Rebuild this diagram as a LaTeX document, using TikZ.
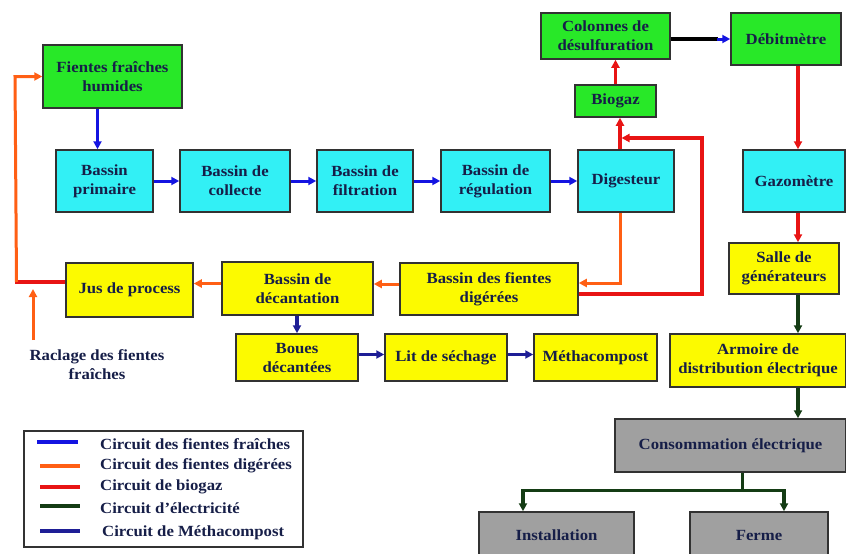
\documentclass[tikz,border=0pt]{standalone}
\usepackage{fontspec}
\setmainfont{Liberation Serif}[FakeStretch=1.08]
\usetikzlibrary{arrows.meta,calc}
\definecolor{txt}{RGB}{22,30,72}
\definecolor{gfill}{RGB}{40,232,40}
\definecolor{cfill}{RGB}{50,240,245}
\definecolor{yfill}{RGB}{252,250,0}
\definecolor{grfill}{RGB}{160,160,160}
\definecolor{bordc}{RGB}{50,50,50}
\definecolor{cblue}{RGB}{20,20,225}
\definecolor{corange}{RGB}{255,95,20}
\definecolor{cred}{RGB}{232,20,20}
\definecolor{cgreen}{RGB}{20,60,20}
\definecolor{cnavy}{RGB}{30,30,150}
\tikzset{
  box/.style={draw=bordc,line width=1.5pt,inner sep=0pt,align=center,
    font=\fontsize{15.5}{19}\selectfont\bfseries,text=txt},
  gbox/.style={box,fill=gfill},
  cbox/.style={box,fill=cfill},
  ybox/.style={box,fill=yfill},
  grbox/.style={box,fill=grfill},
  tip/.style={-{Triangle[length=8pt,width=8pt]}},
  fblue/.style={tip,draw=cblue,line width=3pt},
  forange/.style={tip,draw=corange,line width=3pt},
  fred/.style={tip,draw=cred,line width=3.2pt},
  fgreen/.style={tip,draw=cgreen,line width=3.2pt},
  fnavy/.style={tip,draw=cnavy,line width=3.2pt},
  lbl/.style={font=\fontsize{15.5}{19}\selectfont\bfseries,text=txt,align=center,inner sep=0pt},
}
\begin{document}
\begin{tikzpicture}[x=1pt,y=-1pt]
\useasboundingbox[fill=white] (0,0) rectangle (846,554);
% nodes
\node[gbox,minimum width=139,minimum height=63] (fientes) at (112.5,76.5) {Fientes fraîches\\humides};
\node[cbox,minimum width=97,minimum height=62] (primaire) at (104.5,181) {Bassin\\primaire};
\node[cbox,minimum width=110,minimum height=62] (collecte) at (235,181) {Bassin de\\collecte};
\node[cbox,minimum width=96,minimum height=62] (filtration) at (365,181) {Bassin de\\filtration};
\node[cbox,minimum width=109,minimum height=62] (regulation) at (495.5,181) {Bassin de\\régulation};
\node[cbox,minimum width=96,minimum height=62] (digesteur) at (626,181) {Digesteur};
\node[gbox,minimum width=81,minimum height=32] (biogaz) at (615.5,101) {Biogaz};
\node[gbox,minimum width=129,minimum height=46] (colonnes) at (605.5,36) {Colonnes de\\désulfuration};
\node[gbox,minimum width=110,minimum height=52] (debit) at (786,39) {Débitmètre};
\node[cbox,minimum width=102,minimum height=62] (gazo) at (794,181) {Gazomètre};
\node[ybox,minimum width=110,minimum height=51] (salle) at (784,268.5) {Salle de\\générateurs};
\node[ybox,minimum width=178,minimum height=52] (digerees) at (489,289) {Bassin des fientes\\digérées};
\node[ybox,minimum width=151,minimum height=53] (decant) at (297.5,288.5) {Bassin de\\décantation};
\node[ybox,minimum width=127,minimum height=54] (jus) at (129.5,290) {Jus de process};
\node[ybox,minimum width=122,minimum height=47] (boues) at (297,357.5) {Boues\\décantées};
\node[ybox,minimum width=122,minimum height=47] (lit) at (446,357.5) {Lit de séchage};
\node[ybox,minimum width=123,minimum height=47] (metha) at (595.5,357.5) {Méthacompost};
\node[ybox,minimum width=176,minimum height=53] (armoire) at (758,360.5) {Armoire de\\distribution électrique};
\node[grbox,minimum width=231,minimum height=53] (conso) at (730.5,445.5) {Consommation électrique};
\node[grbox,minimum width=155,minimum height=46] (install) at (556.5,535) {Installation};
\node[grbox,minimum width=138,minimum height=46] (ferme) at (759,535) {Ferme};
\node[lbl] (raclage) at (97,365) {Raclage des fientes\\fraîches};
% fresh droppings circuit (blue)
\draw[fblue] ([xshift=-15pt]fientes.south) -- ([xshift=-15pt]fientes.south |- primaire.north);
\draw[fblue] (primaire.east) -- (collecte.west);
\draw[fblue] (collecte.east) -- (filtration.west);
\draw[fblue] (filtration.east) -- (regulation.west);
\draw[fblue] (regulation.east) -- (digesteur.west);
% biogas circuit (red)
\coordinate (dgx) at ([xshift=-6pt]digesteur.north);
\draw[fred] (dgx) -- (dgx |- biogaz.south);
\draw[fred] (biogaz.north) -- (biogaz.north |- colonnes.south);
\coordinate (cd1) at (colonnes.east |- debit.west);
\coordinate (cd2) at ([xshift=-12pt]debit.west);
\draw[black,line width=3.6pt] (cd1) -- (cd2);
\draw[fblue] ([xshift=-1pt]cd2) -- (debit.west);
\coordinate (gx) at ([xshift=12pt]debit.south);
\draw[fred] (gx) -- (gx |- gazo.north);
\draw[fred] (gx |- gazo.south) -- (gx |- salle.north);
% loop digested basin -> digester top
\coordinate (lp1) at ([yshift=-5pt]digerees.east);
\draw[fred] (lp1) -- (702,0 |- lp1) -- (702,138) -- ($(dgx |- 0,138)+(1.5,0)$);
% digested circuit (orange)
\draw[forange] ([xshift=-6pt]digesteur.south) |- ([yshift=6pt]digerees.east);
\draw[forange] ([yshift=5pt]digerees.west) -- ([yshift=5pt]digerees.west -| decant.east);
\draw[forange] ([yshift=5pt]decant.west) -- ([yshift=5pt]decant.west -| jus.east);
\coordinate (jl) at (15,282);
\draw[cred,line width=3.6pt] ([yshift=8pt]jus.west) -- (jl);
\draw[forange] ([xshift=1.5pt]jl) -- (15,0 |- fientes.west) -- (fientes.west);
\coordinate (rs) at (33,340);
\draw[forange] (rs) -- (33,289);
% methacompost circuit (navy)
\draw[fnavy] (decant.south -| boues.north) -- (boues.north);
\draw[fnavy] ([yshift=3pt]boues.east) -- ([yshift=3pt]lit.west);
\draw[fnavy] ([yshift=3pt]lit.east) -- ([yshift=3pt]metha.west);
% electricity (green)
\draw[fgreen] (salle.south -| gx) -- (gx |- armoire.north);
\draw[fgreen] (armoire.south -| gx) -- (gx |- conso.north);
\coordinate (cs) at ([xshift=12pt]conso.south);
\draw[cgreen,line width=3.2pt] (cs) -- (cs |- 0,490.5);
\draw[cgreen,line width=3.2pt] (521.5,490.5) -- (785.5,490.5);
\draw[fgreen] (523,489) -- (523,0 |- install.north);
\draw[fgreen] (784,489) -- (784,0 |- ferme.north);
% legend
\node[draw=bordc,line width=1.8pt,minimum width=279,minimum height=116,inner sep=0pt] (legend) at (163.5,489) {};
\draw[cblue,line width=3.4pt] (37,442) -- (78,442);
\draw[corange,line width=3.2pt] (40,466) -- (80,466);
\draw[cred,line width=3.4pt] (40,487) -- (80,487);
\draw[cgreen,line width=3.2pt] (40,506) -- (80,506);
\draw[cnavy,line width=3.2pt] (40,531) -- (80,531);
\node[lbl,anchor=west] (l1) at (100,444) {Circuit des fientes fraîches};
\node[lbl,anchor=west] (l2) at (100,466) {Circuit des fientes digérées};
\node[lbl,anchor=west] (l3) at (100,487) {Circuit de biogaz};
\node[lbl,anchor=west] (l4) at (100,508) {Circuit d’électricité};
\node[lbl,anchor=west] (l5) at (102,533) {Circuit de Méthacompost};
\end{tikzpicture}
\end{document}
